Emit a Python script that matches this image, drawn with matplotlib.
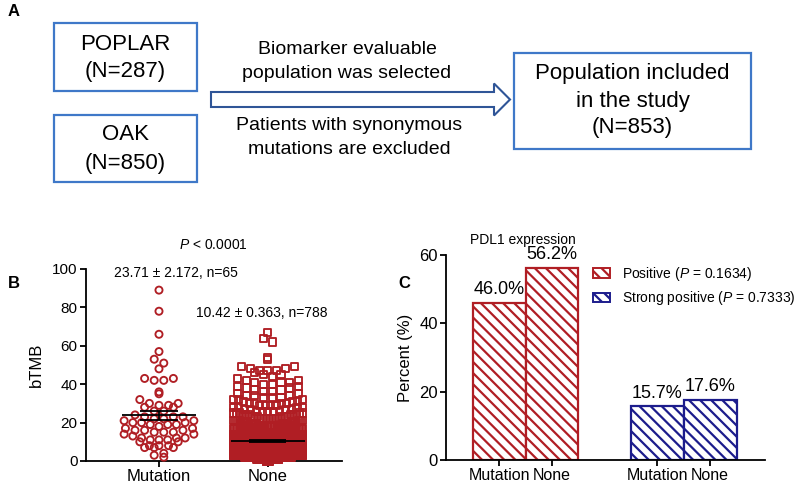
import numpy as np
import matplotlib
matplotlib.use("Agg")
import matplotlib.pyplot as plt
from matplotlib import patches

plt.rcParams['font.family'] = ['Liberation Sans', 'DejaVu Sans']
plt.rcParams['mathtext.fontset'] = 'custom'
plt.rcParams['mathtext.rm'] = 'Liberation Sans'
plt.rcParams['mathtext.it'] = 'Liberation Sans:italic'
plt.rcParams['hatch.linewidth'] = 1.6

# ---------------- data ----------------
# Panel A flow chart
source_names = ["POPLAR", "OAK"]
source_n = [287, 850]
step_top = ["Biomarker evaluable", "population was selected"]
step_bottom = ["Patients with synonymous", "mutations are excluded"]
final_lines = ["Population included", "in the study", "(N=853)"]

# Panel B: bTMB per group
groups_b = ["Mutation", "None"]
mutation_values = [89, 78, 66, 57, 53, 51, 48, 43, 43, 42, 42, 36, 35, 32, 30, 30,
                   29, 29, 28, 28, 26, 26,
                   24, 23, 23, 23, 22, 22,
                   21, 21, 20, 20, 20, 19, 19, 19, 18,
                   17, 17, 16, 16, 16, 15, 15, 15, 14, 14,
                   13, 12, 12, 12, 11, 11, 11, 10, 10,
                   8, 8, 8, 7, 7, 7,
                   4, 3, 2]
none_levels = [0, 1, 2, 3, 4, 5, 6, 7, 8, 9,
               10, 11, 12, 13, 14, 15, 16, 17, 18, 19,
               20, 21, 22, 23, 24, 25, 26, 27, 28, 29,
               30, 31, 32, 33, 34, 35, 36, 37, 38, 39,
               40, 41, 42, 43, 44, 45, 46, 47, 48, 49,
               53, 54, 62, 64, 67]
none_counts = [10, 46, 61, 59, 59, 59, 52, 50, 45, 40,
               33, 30, 27, 24, 21, 18, 15, 13, 11, 9,
               8, 7, 7, 6, 6, 5, 5, 4, 4, 4,
               4, 3, 3, 3, 3, 2, 2, 2, 2, 2,
               2, 3, 2, 1, 1, 2, 1, 3, 2, 2,
               1, 1, 1, 1, 1]
group_mean = [23.71, 10.42]
group_sem = [2.172, 0.363]
group_n = [65, 788]
p_b = "0.0001"

# Panel C: PDL1 expression
pdl1_levels = ["Positive", "Strong positive"]
pdl1_p = ["0.1634", "0.7333"]
cats_c = ["Mutation", "None"]
pct_values = [[46.0, 56.2], [15.7, 17.6]]

RED = '#B01E24'
BLUE = '#1C1C8C'
BOXBLUE = '#3F78C8'
ARROWBLUE = '#2F5597'

W, H = 796, 483
fig = plt.figure(figsize=(W / 100, H / 100), dpi=100)

# ---------------- Panel A (pixel canvas) ----------------
axA = fig.add_axes([0, 0, 1, 1])
axA.set_xlim(0, W)
axA.set_ylim(H, 0)
axA.axis('off')

def box(x0, y0, x1, y1):
    axA.add_patch(patches.Rectangle((x0, y0), x1 - x0, y1 - y0, fill=False,
                                    edgecolor=BOXBLUE, linewidth=1.6))

box(54, 23, 197, 91)
box(54, 115, 197, 182)
box(514, 53, 751, 149)
fs_box = 16
axA.text(125.5, 44, source_names[0], ha='center', va='center', fontsize=fs_box)
axA.text(125.5, 72, f"(N={source_n[0]})", ha='center', va='center', fontsize=fs_box)
axA.text(125.5, 135, source_names[1], ha='center', va='center', fontsize=fs_box)
axA.text(125.5, 163, f"(N={source_n[1]})", ha='center', va='center', fontsize=fs_box)
for i, t in enumerate(final_lines):
    axA.text(632.5, 74 + 27 * i, t, ha='center', va='center', fontsize=fs_box)
fs_step = 14
axA.text(347, 50, step_top[0], ha='center', va='center', fontsize=fs_step)
axA.text(347, 74, step_top[1], ha='center', va='center', fontsize=fs_step)
axA.text(349, 126, step_bottom[0], ha='center', va='center', fontsize=fs_step)
axA.text(349, 150, step_bottom[1], ha='center', va='center', fontsize=fs_step)
axA.add_patch(patches.FancyArrow(211, 99.5, 299, 0, width=15, head_width=32,
                                 head_length=16, length_includes_head=True,
                                 facecolor='white', edgecolor=ARROWBLUE, linewidth=1.5))

fig.text(8 / W, 1 - 12 / H, "A", fontsize=12, fontweight='bold', va='center', ha='left')
fig.text(8 / W, 1 - 283 / H, "B", fontsize=12, fontweight='bold', va='center', ha='left')
fig.text(398 / W, 1 - 283 / H, "C", fontsize=12, fontweight='bold', va='center', ha='left')

# ---------------- Panel B ----------------
axB = fig.add_axes([86 / W, 1 - 461 / H, 256 / W, 192 / H])

def swarm_offsets(vals, binh, step, halfwidth):
    vals = np.asarray(vals, dtype=float)
    order = np.argsort(vals, kind='stable')
    offs = np.zeros(len(vals))
    bins = np.floor(vals[order] / binh).astype(int)
    for b in np.unique(bins):
        idx = order[bins == b]
        n = len(idx)
        s = step if n <= 1 else min(step, 2 * halfwidth / (n - 1))
        if n % 2 == 1:
            slots = [0.0]
            k = 1
            while len(slots) < n:
                slots += [k * s, -k * s]
                k += 1
        else:
            slots = []
            k = 0
            while len(slots) < n:
                slots += [(k + 0.5) * s, -(k + 0.5) * s]
                k += 1
        slots = slots[:n]
        for j, ii in enumerate(idx):
            offs[ii] = slots[j]
    return offs

mut = np.array(mutation_values, dtype=float)
non = np.repeat(np.array(none_levels, dtype=float), none_counts)
off_m = swarm_offsets(mut, 3.6, 0.088, 0.32)
off_n = swarm_offsets(non, 3.6, 0.08, 0.32)
axB.scatter(0 + off_m, mut, s=26, marker='o', facecolors='none', edgecolors=RED,
            linewidths=1.35, clip_on=False, zorder=3)
axB.scatter(1 + off_n, non, s=26, marker='s', facecolors='none', edgecolors=RED,
            linewidths=1.35, clip_on=False, zorder=3)
for i in range(2):
    axB.hlines(group_mean[i], i - 0.34, i + 0.34, color='black', linewidth=1.3, zorder=4)
    axB.vlines(i, group_mean[i] - group_sem[i], group_mean[i] + group_sem[i],
               color='black', linewidth=1.3, zorder=4)
    for sgn in (-1, 1):
        axB.hlines(group_mean[i] + sgn * group_sem[i], i - 0.17, i + 0.17,
                   color='black', linewidth=1.3, zorder=4)
axB.set_xlim(-0.67, 1.68)
axB.set_ylim(0, 100)
axB.set_yticks([0, 20, 40, 60, 80, 100])
axB.set_xticks([0, 1])
axB.set_xticklabels(groups_b)
axB.set_ylabel("bTMB", fontsize=12, labelpad=6)
for sp in ['top', 'right']:
    axB.spines[sp].set_visible(False)
for sp in ['left', 'bottom']:
    axB.spines[sp].set_linewidth(1.3)
axB.tick_params(axis='y', labelsize=11, length=4, width=1.3, pad=2)
axB.tick_params(axis='x', labelsize=12, length=4, width=1.3, pad=2)
axB.patch.set_alpha(0)

fig.text(213 / W, 1 - 245 / H, r"$\mathit{P}$ < " + p_b, ha='center', va='center', fontsize=10)
fig.text(176 / W, 1 - 273 / H, f"{group_mean[0]} ± {group_sem[0]}, n={group_n[0]}",
         ha='center', va='center', fontsize=10)
fig.text(262 / W, 1 - 313 / H, f"{group_mean[1]} ± {group_sem[1]}, n={group_n[1]}",
         ha='center', va='center', fontsize=10)

# ---------------- Panel C ----------------
axC = fig.add_axes([446 / W, 1 - 460 / H, 319 / W, 205 / H])
colors_c = [RED, BLUE]
handles = []
xt, xl = [], []
for g in range(2):
    pos = [g * 3 + c for c in range(2)]
    axC.bar(pos, pct_values[g], width=1.0, facecolor='white', edgecolor=colors_c[g],
            hatch='\\\\\\', linewidth=1.6, zorder=2)
    for p, v in zip(pos, pct_values[g]):
        axC.annotate(f"{v:.1f}%", (p, v), xytext=(0, 9.5), textcoords='offset points',
                     ha='center', va='center', fontsize=13)
    handles.append(patches.Patch(facecolor='white', edgecolor=colors_c[g], hatch='\\\\\\',
                                 linewidth=1.4,
                                 label=f"{pdl1_levels[g]} (" + r"$\mathit{P}$" + f" = {pdl1_p[g]})"))
    xt += pos
    xl += cats_c
axC.set_xlim(-1.01, 5.04)
axC.set_ylim(0, 60)
axC.set_yticks([0, 20, 40, 60])
axC.set_xticks(xt)
axC.set_xticklabels(xl)
axC.set_ylabel("Percent (%)", fontsize=12, labelpad=4)
for sp in ['top', 'right']:
    axC.spines[sp].set_visible(False)
for sp in ['left', 'bottom']:
    axC.spines[sp].set_linewidth(1.3)
axC.tick_params(axis='y', labelsize=12, length=4, width=1.3, pad=2)
axC.tick_params(axis='x', labelsize=11.5, length=4, width=1.3, pad=2)
axC.patch.set_alpha(0)
fig.text(523 / W, 1 - 240 / H, "PDL1 expression", ha='center', va='center', fontsize=10)
fig.legend(handles=handles, loc='upper left', bbox_to_anchor=(593 / W, 1 - 265 / H),
           frameon=False, fontsize=10, handlelength=1.25, handleheight=0.65,
           handletextpad=0.85, labelspacing=0.45, borderpad=0, borderaxespad=0)

fig.savefig("out.png", dpi=100)
